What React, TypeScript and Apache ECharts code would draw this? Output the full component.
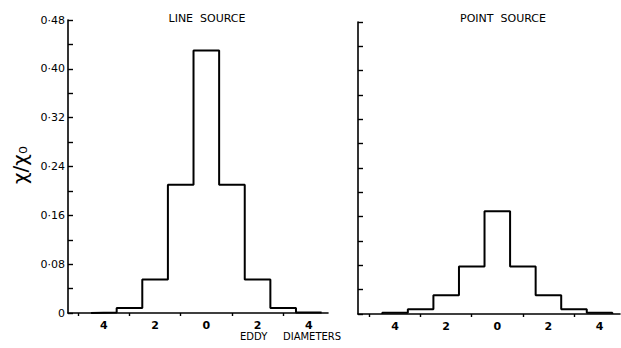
import React, { useEffect, useRef } from "react";
import * as echarts from "echarts";

// Bin centres (eddy diameters) and concentration ratio values
const binCentres = [-4, -3, -2, -1, 0, 1, 2, 3, 4];
const lineSource = [0.001, 0.008, 0.055, 0.21, 0.43, 0.21, 0.055, 0.008, 0.001];
const pointSource = [0.002, 0.008, 0.031, 0.078, 0.169, 0.078, 0.031, 0.008, 0.002];
const xTickValues = [-5, -3, -1, 1, 3];
const xLabelValues = [-4, -2, 0, 2, 4];
const panelTitles = ["LINE  SOURCE", "POINT  SOURCE"];

function histogramPoints(values: number[]): number[][] {
  const pts: number[][] = [[binCentres[0] - 0.5, 0]];
  binCentres.forEach((c, i) => {
    pts.push([c - 0.5, values[i]]);
    pts.push([c + 0.5, values[i]]);
  });
  pts.push([binCentres[binCentres.length - 1] + 0.5, 0]);
  return pts;
}

const FONT = "DejaVu Sans";

function yLabel(v: number): string {
  const k = Math.round(v * 100);
  if (k % 8 !== 0) return "";
  if (k === 0) return "0";
  return "0·" + String(k).padStart(2, "0");
}

export default function App() {
  const ref = useRef<HTMLDivElement>(null);
  useEffect(() => {
    if (!ref.current) return;
    const chart = echarts.init(ref.current, null, { renderer: "svg" });
    const axisLine = { show: true, onZero: false, lineStyle: { color: "#000", width: 1.6 } };
    const xAxisCommon = (min: number, max: number, gridIndex: number) => ({
      type: "value",
      gridIndex,
      min,
      max,
      splitLine: { show: false },
      axisLine,
      axisTick: {
        show: true,
        inside: false,
        length: 3,
        customValues: xTickValues,
        lineStyle: { color: "#000", width: 1.4 },
      },
      axisLabel: {
        show: true,
        customValues: xLabelValues,
        formatter: (v: number) => String(Math.abs(v)),
        color: "#000",
        fontFamily: FONT,
        fontSize: 11,
        fontWeight: "bold",
        margin: 7,
      },
    });
    const yAxisCommon = (gridIndex: number, showLabels: boolean) => ({
      type: "value",
      gridIndex,
      min: 0,
      max: 0.48,
      interval: 0.04,
      splitLine: { show: false },
      axisLine,
      axisTick: {
        show: true,
        inside: true,
        length: 5,
        lineStyle: { color: "#000", width: 1.4 },
      },
      axisLabel: {
        show: showLabels,
        formatter: yLabel,
        color: "#000",
        fontFamily: FONT,
        fontSize: 11,
        margin: 3,
        showMinLabel: true,
        showMaxLabel: true,
      },
    });
    chart.setOption({
      animation: false,
      backgroundColor: "#fff",
      grid: [
        { left: 68, right: 293, top: 20, bottom: 35 },
        { left: 358, right: 1, top: 22, bottom: 34 },
      ],
      xAxis: [xAxisCommon(-5.4, 4.75, 0), xAxisCommon(-5.45, 4.8, 1)],
      yAxis: [yAxisCommon(0, true), yAxisCommon(1, false)],
      series: [
        {
          type: "line",
          xAxisIndex: 0,
          yAxisIndex: 0,
          data: histogramPoints(lineSource),
          showSymbol: false,
          lineStyle: { color: "#000", width: 2 },
        },
        {
          type: "line",
          xAxisIndex: 1,
          yAxisIndex: 1,
          data: histogramPoints(pointSource),
          showSymbol: false,
          lineStyle: { color: "#000", width: 2 },
        },
      ],
      graphic: [
        {
          type: "text",
          x: 207,
          y: 18,
          style: {
            text: panelTitles[0],
            fill: "#000",
            font: `11px "${FONT}"`,
            textAlign: "center",
            textVerticalAlign: "middle",
          },
        },
        {
          type: "text",
          x: 503,
          y: 18,
          style: {
            text: panelTitles[1],
            fill: "#000",
            font: `11px "${FONT}"`,
            textAlign: "center",
            textVerticalAlign: "middle",
          },
        },
        {
          type: "text",
          x: 240,
          y: 336,
          style: {
            text: "EDDY",
            fill: "#000",
            font: `10px "${FONT}"`,
            textAlign: "left",
            textVerticalAlign: "middle",
          },
        },
        {
          type: "text",
          x: 283,
          y: 336,
          style: {
            text: "DIAMETERS",
            fill: "#000",
            font: `10px "${FONT}"`,
            textAlign: "left",
            textVerticalAlign: "middle",
          },
        },
        {
          type: "text",
          x: 20,
          y: 165,
          rotation: Math.PI / 2,
          style: {
            text: "χ/χ₀",
            fill: "#000",
            font: `20px "${FONT}"`,
            textAlign: "center",
            textVerticalAlign: "middle",
          },
        },
      ],
    });
    return () => chart.dispose();
  }, []);
  return (
    <div
      ref={ref}
      style={{ position: "fixed", left: 0, top: 0, width: 621, height: 348 }}
    />
  );
}
